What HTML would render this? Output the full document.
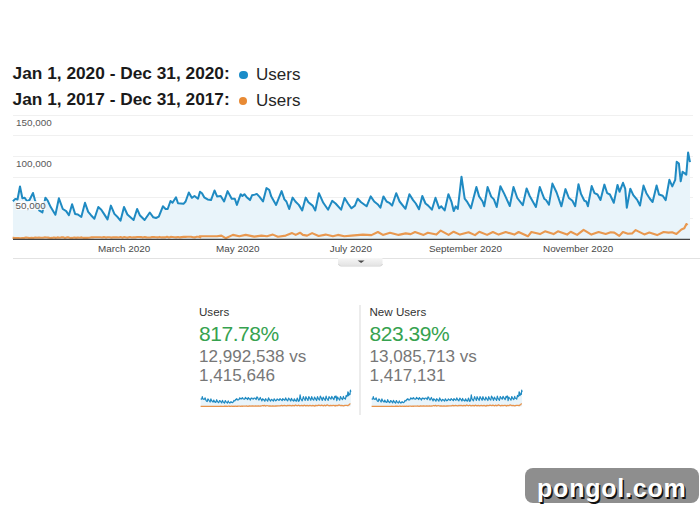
<!DOCTYPE html>
<html><head><meta charset="utf-8">
<style>
html,body{margin:0;padding:0;background:#fff;width:700px;height:509px;overflow:hidden;}
body{position:relative;font-family:"Liberation Sans",sans-serif;}
.t{position:absolute;white-space:nowrap;line-height:1;}
.hd{font-size:17.3px;font-weight:bold;color:#1a1a1a;}
.us{font-size:17px;color:#262626;}
.dot{position:absolute;width:8.6px;height:8.6px;border-radius:50%;}
.yl{font-size:9.9px;color:#585858;}
.xl{font-size:9.9px;color:#484848;}
.lab{font-size:11.6px;color:#333;}
.pct{font-size:21px;letter-spacing:-0.45px;color:#36a24f;}
.num{font-size:17.1px;color:#777;}
</style></head><body>
<div class="t hd" style="left:12.6px;top:65px;">Jan 1, 2020 - Dec 31, 2020:</div>
<div class="dot" style="left:239px;top:70.8px;background:#1a8cc8;"></div>
<div class="t us" style="left:256px;top:66px;">Users</div>
<div class="t hd" style="left:12.6px;top:91px;">Jan 1, 2017 - Dec 31, 2017:</div>
<div class="dot" style="left:238.6px;top:96.8px;background:#e88a34;"></div>
<div class="t us" style="left:256px;top:92px;">Users</div>

<svg width="700" height="509" style="position:absolute;left:0;top:0">
<line x1="13" y1="115.5" x2="693" y2="115.5" stroke="#f0f0f0" stroke-width="1"/>
<line x1="13" y1="135.5" x2="693" y2="135.5" stroke="#f0f0f0" stroke-width="1"/>
<line x1="13" y1="156.5" x2="693" y2="156.5" stroke="#f0f0f0" stroke-width="1"/>
<line x1="13" y1="177.5" x2="693" y2="177.5" stroke="#f0f0f0" stroke-width="1"/>
<line x1="13" y1="197.5" x2="693" y2="197.5" stroke="#f0f0f0" stroke-width="1"/>
<line x1="13" y1="218.5" x2="693" y2="218.5" stroke="#f0f0f0" stroke-width="1"/>

<polygon points="13.0,239.0 12.9,201.2 15.3,198.9 17.5,199.5 20.0,186.5 22.4,198.3 24.7,197.7 27.1,201.2 29.5,200.0 33.0,193.0 34.8,199.5 37.0,206.0 39.5,210.7 42.4,212.4 45.4,197.7 47.7,200.6 50.7,207.1 55.4,214.8 58.9,198.3 62.8,209.0 66.2,211.1 68.9,215.2 72.1,204.2 75.1,213.9 77.9,214.5 81.3,217.0 85.0,202.8 88.2,211.8 91.0,215.2 94.4,218.7 98.3,207.0 101.3,209.7 104.0,213.9 107.5,219.4 110.9,205.6 114.4,213.9 117.8,217.3 120.5,220.7 124.0,207.0 127.4,214.5 130.2,217.0 133.6,220.0 137.1,209.0 139.8,215.2 144.6,220.0 149.8,212.5 153.3,217.3 156.0,218.0 158.8,216.6 162.9,206.3 165.6,209.0 167.7,209.0 170.5,201.0 172.5,202.8 176.0,197.3 178.0,203.3 183.5,203.8 185.6,201.5 188.8,192.5 191.8,197.8 194.5,196.0 198.0,198.7 200.0,191.8 202.0,193.2 204.2,197.3 207.6,199.4 211.0,200.1 214.5,190.5 217.2,196.6 220.7,196.0 224.1,201.5 227.6,191.1 231.7,198.7 234.8,198.7 236.9,204.9 240.7,194.2 242.4,196.0 244.4,194.2 246.5,196.9 250.0,200.1 252.0,195.3 254.8,194.6 256.8,193.9 259.6,196.9 263.0,201.5 266.5,188.1 269.2,189.8 271.3,196.6 276.1,204.9 281.6,191.1 284.4,199.4 286.4,201.5 289.2,209.0 292.6,197.6 295.4,201.5 298.8,204.9 302.2,210.4 305.7,197.6 308.4,202.2 312.6,205.6 315.3,210.4 318.9,193.2 323.3,202.8 328.1,209.7 332.2,200.8 335.6,203.5 341.1,209.7 344.6,198.0 348.0,203.5 351.5,208.3 354.9,205.6 357.7,198.7 361.1,202.2 366.6,206.3 370.7,196.4 374.2,201.5 377.6,204.2 380.4,207.7 383.4,196.4 386.6,201.5 389.3,202.8 392.1,205.6 396.2,193.2 399.6,201.5 405.5,208.8 409.4,194.2 413.1,200.1 415.8,203.5 419.0,209.3 422.3,196.0 425.5,203.5 428.2,205.6 431.9,209.7 435.5,197.8 439.2,208.3 441.3,206.3 444.7,210.4 448.4,194.2 451.6,202.2 453.7,211.1 455.7,206.3 457.8,209.0 461.5,176.7 464.7,198.7 467.4,202.2 470.9,208.3 476.4,187.0 479.1,196.4 482.6,201.5 484.2,206.3 487.6,187.0 491.2,196.6 493.9,199.4 496.7,207.0 500.4,186.3 504.3,193.9 509.8,206.0 513.5,187.0 517.3,198.0 522.8,205.2 526.6,188.4 529.7,196.0 535.9,207.0 539.8,187.0 544.2,198.7 546.0,200.0 549.0,204.6 552.4,183.6 556.6,192.5 561.4,206.3 565.5,189.1 568.9,198.0 572.4,200.8 575.2,206.2 578.5,184.2 581.0,193.9 584.4,200.7 586.2,201.4 587.9,206.2 591.7,186.0 594.5,193.2 597.5,194.5 600.5,200.0 604.4,184.6 607.2,193.2 609.9,194.5 613.8,202.8 617.5,184.9 619.5,191.8 623.0,182.8 625.2,188.6 626.8,207.7 630.3,188.7 633.3,195.2 637.2,199.9 640.0,205.5 643.5,185.6 646.4,193.2 649.7,198.5 652.6,202.0 656.6,185.5 659.0,194.5 662.7,195.7 665.7,200.1 669.4,179.8 672.3,186.4 675.2,179.8 676.7,161.8 678.9,163.6 680.7,181.3 682.6,171.7 686.3,174.6 688.1,152.5 690.0,162.1 690.0,239.0" fill="#e9f4fa"/>
<polyline points="12.6,237.9 14.9,238.0 16.7,238.1 18.6,238.1 20.4,238.2 22.3,238.0 24.1,238.1 26.0,237.5 27.8,237.8 29.7,238.1 31.6,237.9 33.4,238.1 35.3,237.5 37.1,237.8 39.0,237.6 40.8,237.8 42.7,237.8 44.5,237.4 46.4,237.5 48.2,237.6 50.1,238.0 52.0,237.9 53.8,237.5 55.7,237.9 57.5,237.4 59.4,237.8 61.2,237.4 63.1,237.3 64.9,237.9 66.8,237.4 68.6,237.4 70.5,238.0 72.4,237.9 74.2,237.5 76.1,237.9 77.9,237.6 79.8,237.7 81.6,237.4 83.5,237.9 85.3,237.7 87.2,237.9 89.1,237.8 90.9,237.4 92.8,237.4 94.6,237.3 96.5,237.3 98.3,237.2 100.2,237.3 102.0,237.5 103.9,237.1 105.8,237.6 107.6,237.3 109.5,237.3 111.3,237.6 113.2,237.4 115.0,237.3 116.9,237.4 118.7,237.5 120.6,237.1 122.4,237.7 124.3,237.0 126.2,237.5 128.0,237.6 129.9,237.0 131.7,237.5 133.6,237.2 135.4,237.4 137.3,237.0 139.1,237.0 141.0,237.1 142.8,237.6 144.7,237.1 146.6,237.4 148.4,237.5 150.3,237.5 152.1,237.1 154.0,237.1 155.8,237.2 157.7,237.4 159.5,236.9 161.4,237.4 163.3,237.4 165.1,237.4 167.0,236.8 168.8,237.5 170.7,236.9 172.5,237.0 174.4,237.2 176.2,237.4 178.1,237.0 179.9,237.4 181.8,237.1 183.7,236.9 185.5,236.9 187.4,236.8 189.2,236.8 191.1,236.8 192.9,237.2 194.8,237.4 196.6,236.8 198.5,236.7 200.4,237.3 200.0,236.3 217.0,236.3 221.4,235.6 225.7,238.2 232.9,234.9 239.3,236.3 245.7,234.9 254.3,236.6 261.4,235.6 267.0,236.3 272.9,234.6 277.9,236.7 285.7,235.6 292.1,233.1 295.7,234.9 300.0,232.7 302.9,234.9 307.1,235.6 312.1,233.1 318.6,236.0 325.7,234.6 332.9,236.3 337.9,234.9 344.3,236.3 351.4,235.6 362.9,234.6 371.4,235.1 377.9,232.0 382.9,234.9 390.0,232.7 398.6,234.9 405.7,233.4 410.7,234.1 415.0,232.0 423.6,234.9 427.9,232.7 436.4,234.6 440.7,230.6 448.6,234.9 453.6,231.7 460.0,234.6 468.6,232.3 475.0,235.1 479.3,231.7 487.1,234.9 492.9,232.0 498.6,234.6 505.7,232.0 514.3,234.6 518.6,232.0 527.9,236.3 531.4,232.0 540.0,234.1 545.0,231.3 553.6,234.1 557.9,231.3 567.1,234.6 570.7,231.7 577.1,234.9 583.6,229.9 591.4,234.6 598.6,232.0 605.7,234.0 610.7,232.3 614.3,232.6 619.3,235.9 622.9,232.0 627.9,233.7 632.1,233.4 635.7,230.1 644.3,234.4 649.3,232.6 657.1,235.1 663.6,232.0 668.6,232.6 672.1,232.3 676.4,234.0 681.4,229.4 684.3,228.3 686.4,224.0 687.6,225.1" fill="none" stroke="#e9984f" stroke-width="2.1" stroke-linejoin="round"/>
<line x1="13" y1="239.3" x2="690" y2="239.3" stroke="#444" stroke-width="1.2"/>
<polyline points="12.9,201.2 15.3,198.9 17.5,199.5 20.0,186.5 22.4,198.3 24.7,197.7 27.1,201.2 29.5,200.0 33.0,193.0 34.8,199.5 37.0,206.0 39.5,210.7 42.4,212.4 45.4,197.7 47.7,200.6 50.7,207.1 55.4,214.8 58.9,198.3 62.8,209.0 66.2,211.1 68.9,215.2 72.1,204.2 75.1,213.9 77.9,214.5 81.3,217.0 85.0,202.8 88.2,211.8 91.0,215.2 94.4,218.7 98.3,207.0 101.3,209.7 104.0,213.9 107.5,219.4 110.9,205.6 114.4,213.9 117.8,217.3 120.5,220.7 124.0,207.0 127.4,214.5 130.2,217.0 133.6,220.0 137.1,209.0 139.8,215.2 144.6,220.0 149.8,212.5 153.3,217.3 156.0,218.0 158.8,216.6 162.9,206.3 165.6,209.0 167.7,209.0 170.5,201.0 172.5,202.8 176.0,197.3 178.0,203.3 183.5,203.8 185.6,201.5 188.8,192.5 191.8,197.8 194.5,196.0 198.0,198.7 200.0,191.8 202.0,193.2 204.2,197.3 207.6,199.4 211.0,200.1 214.5,190.5 217.2,196.6 220.7,196.0 224.1,201.5 227.6,191.1 231.7,198.7 234.8,198.7 236.9,204.9 240.7,194.2 242.4,196.0 244.4,194.2 246.5,196.9 250.0,200.1 252.0,195.3 254.8,194.6 256.8,193.9 259.6,196.9 263.0,201.5 266.5,188.1 269.2,189.8 271.3,196.6 276.1,204.9 281.6,191.1 284.4,199.4 286.4,201.5 289.2,209.0 292.6,197.6 295.4,201.5 298.8,204.9 302.2,210.4 305.7,197.6 308.4,202.2 312.6,205.6 315.3,210.4 318.9,193.2 323.3,202.8 328.1,209.7 332.2,200.8 335.6,203.5 341.1,209.7 344.6,198.0 348.0,203.5 351.5,208.3 354.9,205.6 357.7,198.7 361.1,202.2 366.6,206.3 370.7,196.4 374.2,201.5 377.6,204.2 380.4,207.7 383.4,196.4 386.6,201.5 389.3,202.8 392.1,205.6 396.2,193.2 399.6,201.5 405.5,208.8 409.4,194.2 413.1,200.1 415.8,203.5 419.0,209.3 422.3,196.0 425.5,203.5 428.2,205.6 431.9,209.7 435.5,197.8 439.2,208.3 441.3,206.3 444.7,210.4 448.4,194.2 451.6,202.2 453.7,211.1 455.7,206.3 457.8,209.0 461.5,176.7 464.7,198.7 467.4,202.2 470.9,208.3 476.4,187.0 479.1,196.4 482.6,201.5 484.2,206.3 487.6,187.0 491.2,196.6 493.9,199.4 496.7,207.0 500.4,186.3 504.3,193.9 509.8,206.0 513.5,187.0 517.3,198.0 522.8,205.2 526.6,188.4 529.7,196.0 535.9,207.0 539.8,187.0 544.2,198.7 546.0,200.0 549.0,204.6 552.4,183.6 556.6,192.5 561.4,206.3 565.5,189.1 568.9,198.0 572.4,200.8 575.2,206.2 578.5,184.2 581.0,193.9 584.4,200.7 586.2,201.4 587.9,206.2 591.7,186.0 594.5,193.2 597.5,194.5 600.5,200.0 604.4,184.6 607.2,193.2 609.9,194.5 613.8,202.8 617.5,184.9 619.5,191.8 623.0,182.8 625.2,188.6 626.8,207.7 630.3,188.7 633.3,195.2 637.2,199.9 640.0,205.5 643.5,185.6 646.4,193.2 649.7,198.5 652.6,202.0 656.6,185.5 659.0,194.5 662.7,195.7 665.7,200.1 669.4,179.8 672.3,186.4 675.2,179.8 676.7,161.8 678.9,163.6 680.7,181.3 682.6,171.7 686.3,174.6 688.1,152.5 690.0,162.1" fill="none" stroke="#1f8ac2" stroke-width="2" stroke-linejoin="round"/>
<line x1="13" y1="258.5" x2="700" y2="258.5" stroke="#e2e2e2" stroke-width="1"/>
<defs><linearGradient id="bg" x1="0" y1="0" x2="0" y2="1"><stop offset="0" stop-color="#f6f6f6"/><stop offset="1" stop-color="#e4e4e4"/></linearGradient></defs>
<path d="M338,258 H382.5 V263.5 Q382.5,265.5 380.5,265.5 H340 Q338,265.5 338,263.5 Z" fill="url(#bg)"/>
<path d="M338.5,264 Q339,266 341,266 H380 Q382,266 382.5,264" fill="none" stroke="#d2d2d2" stroke-width="1"/>
<polygon points="357.6,260.6 364.6,260.6 361.1,262.9" fill="#4a4a4a"/>
<line x1="360" y1="305" x2="360" y2="415" stroke="#e0e0e0" stroke-width="1.2"/>
<polygon points="200.7,406.6 200.7,399.4 201.2,399.0 201.7,399.1 202.3,396.6 202.8,398.9 203.3,398.8 203.8,399.4 204.4,399.2 205.1,397.9 205.5,399.1 206.0,400.3 206.6,401.2 207.2,401.5 207.9,398.8 208.4,399.3 209.1,400.5 210.1,402.0 210.9,398.9 211.7,400.9 212.5,401.3 213.1,402.1 213.8,400.0 214.5,401.8 215.1,401.9 215.8,402.4 216.7,399.7 217.4,401.4 218.0,402.1 218.7,402.7 219.6,400.5 220.3,401.0 220.9,401.8 221.7,402.9 222.4,400.3 223.2,401.8 223.9,402.5 224.5,403.1 225.3,400.5 226.1,401.9 226.7,402.4 227.4,403.0 228.2,400.9 228.8,402.1 229.9,403.0 231.0,401.6 231.8,402.5 232.4,402.6 233.0,402.3 233.9,400.4 234.5,400.9 235.0,400.9 235.6,399.4 236.1,399.7 236.8,398.7 237.3,399.8 238.5,399.9 239.0,399.5 239.7,397.8 240.3,398.8 240.9,398.4 241.7,398.9 242.2,397.6 242.6,397.9 243.1,398.7 243.8,399.1 244.6,399.2 245.4,397.4 246.0,398.5 246.7,398.4 247.5,399.5 248.3,397.5 249.2,398.9 249.9,398.9 250.3,400.1 251.2,398.1 251.6,398.4 252.0,398.1 252.5,398.6 253.2,399.2 253.7,398.3 254.3,398.2 254.8,398.0 255.4,398.6 256.1,399.5 256.9,396.9 257.5,397.3 258.0,398.5 259.0,400.1 260.3,397.5 260.9,399.1 261.3,399.5 261.9,400.9 262.7,398.7 263.3,399.5 264.1,400.1 264.8,401.2 265.6,398.7 266.2,399.6 267.1,400.3 267.7,401.2 268.5,397.9 269.5,399.7 270.6,401.0 271.5,399.3 272.2,399.9 273.4,401.0 274.2,398.8 275.0,399.9 275.8,400.8 276.5,400.3 277.1,398.9 277.9,399.6 279.1,400.4 280.0,398.5 280.8,399.5 281.5,400.0 282.2,400.7 282.8,398.5 283.5,399.5 284.1,399.7 284.8,400.3 285.7,397.9 286.4,399.5 287.7,400.9 288.6,398.1 289.4,399.2 290.0,399.9 290.7,401.0 291.4,398.4 292.2,399.9 292.8,400.3 293.6,401.0 294.4,398.8 295.2,400.8 295.7,400.4 296.4,401.2 297.2,398.1 297.9,399.6 298.4,401.3 298.9,400.4 299.3,400.9 300.1,394.8 300.8,398.9 301.4,399.6 302.2,400.8 303.4,396.7 304.0,398.5 304.8,399.5 305.2,400.4 305.9,396.7 306.7,398.5 307.3,399.1 307.9,400.5 308.8,396.6 309.6,398.0 310.8,400.3 311.7,396.7 312.5,398.8 313.7,400.2 314.6,397.0 315.3,398.4 316.6,400.5 317.5,396.7 318.5,398.9 318.9,399.2 319.5,400.1 320.3,396.1 321.2,397.8 322.3,400.4 323.2,397.1 324.0,398.8 324.7,399.3 325.3,400.4 326.1,396.2 326.6,398.0 327.4,399.3 327.8,399.5 328.2,400.4 329.0,396.5 329.6,397.9 330.3,398.1 331.0,399.2 331.8,396.3 332.4,397.9 333.0,398.1 333.9,399.7 334.7,396.3 335.2,397.6 335.9,395.9 336.4,397.0 336.8,400.7 337.6,397.0 338.2,398.3 339.1,399.2 339.7,400.2 340.5,396.5 341.1,397.9 341.9,398.9 342.5,399.6 343.4,396.4 343.9,398.1 344.7,398.4 345.4,399.2 346.2,395.4 346.9,396.6 347.5,395.4 347.9,391.9 348.3,392.3 348.7,395.6 349.2,393.8 350.0,394.4 350.4,390.2 350.8,392.0 350.8,406.6" fill="#e9f4fa"/>
<polyline points="200.6,406.4 201.1,406.4 201.5,406.4 201.9,406.4 202.3,406.4 202.8,406.4 203.2,406.4 203.6,406.3 204.0,406.4 204.4,406.4 204.8,406.4 205.2,406.4 205.6,406.3 206.0,406.4 206.5,406.3 206.9,406.4 207.3,406.4 207.7,406.3 208.1,406.3 208.5,406.3 208.9,406.4 209.3,406.4 209.7,406.3 210.2,406.4 210.6,406.3 211.0,406.4 211.4,406.3 211.8,406.3 212.2,406.4 212.6,406.3 213.0,406.3 213.4,406.4 213.9,406.4 214.3,406.3 214.7,406.4 215.1,406.3 215.5,406.4 215.9,406.3 216.3,406.4 216.7,406.4 217.2,406.4 217.6,406.4 218.0,406.3 218.4,406.3 218.8,406.3 219.2,406.3 219.6,406.3 220.0,406.3 220.4,406.3 220.9,406.2 221.3,406.3 221.7,406.3 222.1,406.3 222.5,406.3 222.9,406.3 223.3,406.3 223.7,406.3 224.1,406.3 224.6,406.2 225.0,406.4 225.4,406.2 225.8,406.3 226.2,406.3 226.6,406.2 227.0,406.3 227.4,406.3 227.8,406.3 228.3,406.2 228.7,406.2 229.1,406.2 229.5,406.3 229.9,406.2 230.3,406.3 230.7,406.3 231.1,406.3 231.5,406.2 232.0,406.2 232.4,406.3 232.8,406.3 233.2,406.2 233.6,406.3 234.0,406.3 234.4,406.3 234.8,406.2 235.2,406.3 235.7,406.2 236.1,406.2 236.5,406.3 236.9,406.3 237.3,406.2 237.7,406.3 238.1,406.2 238.5,406.2 238.9,406.2 239.4,406.2 239.8,406.2 240.2,406.2 240.6,406.3 241.0,406.3 241.4,406.2 241.8,406.2 242.2,406.3 242.2,406.1 245.9,406.1 246.9,406.0 247.9,406.4 249.5,405.8 250.9,406.1 252.3,405.8 254.2,406.1 255.8,406.0 257.0,406.1 258.3,405.8 259.4,406.2 261.2,406.0 262.6,405.5 263.4,405.8 264.3,405.4 265.0,405.8 265.9,406.0 267.0,405.5 268.5,406.0 270.0,405.8 271.6,406.1 272.7,405.8 274.2,406.1 275.7,406.0 278.3,405.8 280.2,405.9 281.6,405.3 282.7,405.8 284.3,405.4 286.2,405.8 287.8,405.5 288.9,405.7 289.8,405.3 291.7,405.8 292.7,405.4 294.6,405.8 295.5,405.0 297.3,405.8 298.4,405.2 299.8,405.8 301.7,405.3 303.1,405.9 304.1,405.2 305.8,405.8 307.1,405.3 308.4,405.8 309.9,405.3 311.8,405.8 312.8,405.3 314.9,406.1 315.6,405.3 317.5,405.7 318.7,405.1 320.6,405.7 321.5,405.1 323.6,405.8 324.3,405.2 325.8,405.8 327.2,404.9 328.9,405.8 330.5,405.3 332.1,405.7 333.2,405.3 334.0,405.4 335.1,406.0 335.9,405.3 337.0,405.6 338.0,405.5 338.8,404.9 340.7,405.7 341.8,405.4 343.5,405.9 344.9,405.3 346.1,405.4 346.8,405.3 347.8,405.7 348.9,404.8 349.5,404.6 350.0,403.8 350.3,404.0" fill="none" stroke="#e8924a" stroke-width="1.3" stroke-linejoin="round"/>
<polyline points="200.7,399.4 201.2,399.0 201.7,399.1 202.3,396.6 202.8,398.9 203.3,398.8 203.8,399.4 204.4,399.2 205.1,397.9 205.5,399.1 206.0,400.3 206.6,401.2 207.2,401.5 207.9,398.8 208.4,399.3 209.1,400.5 210.1,402.0 210.9,398.9 211.7,400.9 212.5,401.3 213.1,402.1 213.8,400.0 214.5,401.8 215.1,401.9 215.8,402.4 216.7,399.7 217.4,401.4 218.0,402.1 218.7,402.7 219.6,400.5 220.3,401.0 220.9,401.8 221.7,402.9 222.4,400.3 223.2,401.8 223.9,402.5 224.5,403.1 225.3,400.5 226.1,401.9 226.7,402.4 227.4,403.0 228.2,400.9 228.8,402.1 229.9,403.0 231.0,401.6 231.8,402.5 232.4,402.6 233.0,402.3 233.9,400.4 234.5,400.9 235.0,400.9 235.6,399.4 236.1,399.7 236.8,398.7 237.3,399.8 238.5,399.9 239.0,399.5 239.7,397.8 240.3,398.8 240.9,398.4 241.7,398.9 242.2,397.6 242.6,397.9 243.1,398.7 243.8,399.1 244.6,399.2 245.4,397.4 246.0,398.5 246.7,398.4 247.5,399.5 248.3,397.5 249.2,398.9 249.9,398.9 250.3,400.1 251.2,398.1 251.6,398.4 252.0,398.1 252.5,398.6 253.2,399.2 253.7,398.3 254.3,398.2 254.8,398.0 255.4,398.6 256.1,399.5 256.9,396.9 257.5,397.3 258.0,398.5 259.0,400.1 260.3,397.5 260.9,399.1 261.3,399.5 261.9,400.9 262.7,398.7 263.3,399.5 264.1,400.1 264.8,401.2 265.6,398.7 266.2,399.6 267.1,400.3 267.7,401.2 268.5,397.9 269.5,399.7 270.6,401.0 271.5,399.3 272.2,399.9 273.4,401.0 274.2,398.8 275.0,399.9 275.8,400.8 276.5,400.3 277.1,398.9 277.9,399.6 279.1,400.4 280.0,398.5 280.8,399.5 281.5,400.0 282.2,400.7 282.8,398.5 283.5,399.5 284.1,399.7 284.8,400.3 285.7,397.9 286.4,399.5 287.7,400.9 288.6,398.1 289.4,399.2 290.0,399.9 290.7,401.0 291.4,398.4 292.2,399.9 292.8,400.3 293.6,401.0 294.4,398.8 295.2,400.8 295.7,400.4 296.4,401.2 297.2,398.1 297.9,399.6 298.4,401.3 298.9,400.4 299.3,400.9 300.1,394.8 300.8,398.9 301.4,399.6 302.2,400.8 303.4,396.7 304.0,398.5 304.8,399.5 305.2,400.4 305.9,396.7 306.7,398.5 307.3,399.1 307.9,400.5 308.8,396.6 309.6,398.0 310.8,400.3 311.7,396.7 312.5,398.8 313.7,400.2 314.6,397.0 315.3,398.4 316.6,400.5 317.5,396.7 318.5,398.9 318.9,399.2 319.5,400.1 320.3,396.1 321.2,397.8 322.3,400.4 323.2,397.1 324.0,398.8 324.7,399.3 325.3,400.4 326.1,396.2 326.6,398.0 327.4,399.3 327.8,399.5 328.2,400.4 329.0,396.5 329.6,397.9 330.3,398.1 331.0,399.2 331.8,396.3 332.4,397.9 333.0,398.1 333.9,399.7 334.7,396.3 335.2,397.6 335.9,395.9 336.4,397.0 336.8,400.7 337.6,397.0 338.2,398.3 339.1,399.2 339.7,400.2 340.5,396.5 341.1,397.9 341.9,398.9 342.5,399.6 343.4,396.4 343.9,398.1 344.7,398.4 345.4,399.2 346.2,395.4 346.9,396.6 347.5,395.4 347.9,391.9 348.3,392.3 348.7,395.6 349.2,393.8 350.0,394.4 350.4,390.2 350.8,392.0" fill="none" stroke="#1f8ac2" stroke-width="1.2" stroke-linejoin="round"/>
<polygon points="371.7,406.6 371.7,399.4 372.2,399.0 372.7,399.1 373.3,396.6 373.8,398.9 374.3,398.8 374.8,399.4 375.4,399.2 376.1,397.9 376.5,399.1 377.0,400.3 377.6,401.2 378.2,401.5 378.9,398.8 379.4,399.3 380.1,400.5 381.1,402.0 381.9,398.9 382.8,400.9 383.5,401.3 384.1,402.1 384.8,400.0 385.5,401.8 386.1,401.9 386.9,402.4 387.7,399.7 388.4,401.4 389.0,402.1 389.8,402.7 390.6,400.5 391.3,401.0 391.9,401.8 392.7,402.9 393.4,400.3 394.2,401.8 395.0,402.5 395.6,403.1 396.4,400.5 397.1,401.9 397.7,402.4 398.5,403.0 399.3,400.9 399.9,402.1 400.9,403.0 402.1,401.6 402.9,402.5 403.5,402.6 404.1,402.3 405.0,400.4 405.6,400.9 406.1,400.9 406.7,399.4 407.1,399.7 407.9,398.7 408.4,399.8 409.6,399.9 410.0,399.5 410.8,397.8 411.4,398.8 412.0,398.4 412.8,398.9 413.2,397.6 413.7,397.9 414.2,398.7 414.9,399.1 415.7,399.2 416.5,397.4 417.1,398.5 417.8,398.4 418.6,399.5 419.4,397.5 420.3,398.9 421.0,398.9 421.4,400.1 422.3,398.1 422.7,398.4 423.1,398.1 423.6,398.6 424.4,399.2 424.8,398.3 425.4,398.2 425.9,398.0 426.5,398.6 427.2,399.5 428.0,396.9 428.6,397.3 429.1,398.5 430.1,400.1 431.4,397.5 432.0,399.1 432.4,399.5 433.1,400.9 433.8,398.7 434.4,399.5 435.2,400.1 435.9,401.2 436.7,398.7 437.3,399.6 438.3,400.3 438.9,401.2 439.7,397.9 440.6,399.7 441.7,401.0 442.6,399.3 443.4,399.9 444.6,401.0 445.4,398.8 446.1,399.9 446.9,400.8 447.7,400.3 448.3,398.9 449.0,399.6 450.3,400.4 451.2,398.5 451.9,399.5 452.7,400.0 453.3,400.7 454.0,398.5 454.7,399.5 455.3,399.7 455.9,400.3 456.8,397.9 457.6,399.5 458.9,400.9 459.8,398.1 460.6,399.2 461.2,399.9 461.9,401.0 462.6,398.4 463.3,399.9 463.9,400.3 464.8,401.0 465.6,398.8 466.4,400.8 466.8,400.4 467.6,401.2 468.4,398.1 469.1,399.6 469.6,401.3 470.0,400.4 470.5,400.9 471.3,394.8 472.0,398.9 472.6,399.6 473.4,400.8 474.6,396.7 475.2,398.5 476.0,399.5 476.4,400.4 477.1,396.7 477.9,398.5 478.5,399.1 479.2,400.5 480.0,396.6 480.8,398.0 482.1,400.3 482.9,396.7 483.7,398.8 485.0,400.2 485.8,397.0 486.5,398.4 487.9,400.5 488.7,396.7 489.7,398.9 490.1,399.2 490.8,400.1 491.5,396.1 492.5,397.8 493.5,400.4 494.4,397.1 495.2,398.8 496.0,399.3 496.6,400.4 497.3,396.2 497.9,398.0 498.6,399.3 499.0,399.5 499.4,400.4 500.3,396.5 500.9,397.9 501.6,398.1 502.2,399.2 503.1,396.3 503.7,397.9 504.3,398.1 505.2,399.7 506.0,396.3 506.4,397.6 507.2,395.9 507.7,397.0 508.1,400.7 508.8,397.0 509.5,398.3 510.4,399.2 511.0,400.2 511.8,396.5 512.4,397.9 513.1,398.9 513.8,399.6 514.7,396.4 515.2,398.1 516.0,398.4 516.7,399.2 517.5,395.4 518.2,396.6 518.8,395.4 519.1,391.9 519.6,392.3 520.0,395.6 520.5,393.8 521.3,394.4 521.7,390.2 522.1,392.0 522.1,406.6" fill="#e9f4fa"/>
<polyline points="371.6,406.4 372.1,406.4 372.5,406.4 372.9,406.4 373.3,406.4 373.8,406.4 374.2,406.4 374.6,406.3 375.0,406.4 375.4,406.4 375.8,406.4 376.2,406.4 376.6,406.3 377.1,406.4 377.5,406.3 377.9,406.4 378.3,406.4 378.7,406.3 379.1,406.3 379.5,406.3 379.9,406.4 380.4,406.4 380.8,406.3 381.2,406.4 381.6,406.3 382.0,406.4 382.4,406.3 382.8,406.3 383.2,406.4 383.7,406.3 384.1,406.3 384.5,406.4 384.9,406.4 385.3,406.3 385.7,406.4 386.1,406.3 386.5,406.4 386.9,406.3 387.4,406.4 387.8,406.4 388.2,406.4 388.6,406.4 389.0,406.3 389.4,406.3 389.8,406.3 390.2,406.3 390.7,406.3 391.1,406.3 391.5,406.3 391.9,406.2 392.3,406.3 392.7,406.3 393.1,406.3 393.5,406.3 394.0,406.3 394.4,406.3 394.8,406.3 395.2,406.3 395.6,406.2 396.0,406.4 396.4,406.2 396.8,406.3 397.3,406.3 397.7,406.2 398.1,406.3 398.5,406.3 398.9,406.3 399.3,406.2 399.7,406.2 400.1,406.2 400.5,406.3 401.0,406.2 401.4,406.3 401.8,406.3 402.2,406.3 402.6,406.2 403.0,406.2 403.4,406.3 403.8,406.3 404.3,406.2 404.7,406.3 405.1,406.3 405.5,406.3 405.9,406.2 406.3,406.3 406.7,406.2 407.1,406.2 407.6,406.3 408.0,406.3 408.4,406.2 408.8,406.3 409.2,406.2 409.6,406.2 410.0,406.2 410.4,406.2 410.8,406.2 411.3,406.2 411.7,406.3 412.1,406.3 412.5,406.2 412.9,406.2 413.3,406.3 413.2,406.1 417.0,406.1 418.0,406.0 419.0,406.4 420.6,405.8 422.0,406.1 423.4,405.8 425.3,406.1 426.9,406.0 428.1,406.1 429.4,405.8 430.5,406.2 432.3,406.0 433.7,405.5 434.5,405.8 435.5,405.4 436.1,405.8 437.0,406.0 438.1,405.5 439.6,406.0 441.2,405.8 442.8,406.1 443.9,405.8 445.3,406.1 446.9,406.0 449.4,405.8 451.3,405.9 452.8,405.3 453.9,405.8 455.5,405.4 457.4,405.8 458.9,405.5 460.1,405.7 461.0,405.3 462.9,405.8 463.9,405.4 465.8,405.8 466.7,405.0 468.5,405.8 469.6,405.2 471.0,405.8 472.9,405.3 474.3,405.9 475.3,405.2 477.0,405.8 478.3,405.3 479.6,405.8 481.2,405.3 483.1,405.8 484.0,405.3 486.1,406.1 486.9,405.3 488.8,405.7 489.9,405.1 491.8,405.7 492.8,405.1 494.8,405.8 495.6,405.2 497.0,405.8 498.5,404.9 500.2,405.8 501.8,405.3 503.4,405.7 504.5,405.3 505.3,405.4 506.4,406.0 507.2,405.3 508.3,405.6 509.2,405.5 510.0,404.9 511.9,405.7 513.1,405.4 514.8,405.9 516.2,405.3 517.3,405.4 518.1,405.3 519.1,405.7 520.2,404.8 520.8,404.6 521.3,403.8 521.6,404.0" fill="none" stroke="#e8924a" stroke-width="1.3" stroke-linejoin="round"/>
<polyline points="371.7,399.4 372.2,399.0 372.7,399.1 373.3,396.6 373.8,398.9 374.3,398.8 374.8,399.4 375.4,399.2 376.1,397.9 376.5,399.1 377.0,400.3 377.6,401.2 378.2,401.5 378.9,398.8 379.4,399.3 380.1,400.5 381.1,402.0 381.9,398.9 382.8,400.9 383.5,401.3 384.1,402.1 384.8,400.0 385.5,401.8 386.1,401.9 386.9,402.4 387.7,399.7 388.4,401.4 389.0,402.1 389.8,402.7 390.6,400.5 391.3,401.0 391.9,401.8 392.7,402.9 393.4,400.3 394.2,401.8 395.0,402.5 395.6,403.1 396.4,400.5 397.1,401.9 397.7,402.4 398.5,403.0 399.3,400.9 399.9,402.1 400.9,403.0 402.1,401.6 402.9,402.5 403.5,402.6 404.1,402.3 405.0,400.4 405.6,400.9 406.1,400.9 406.7,399.4 407.1,399.7 407.9,398.7 408.4,399.8 409.6,399.9 410.0,399.5 410.8,397.8 411.4,398.8 412.0,398.4 412.8,398.9 413.2,397.6 413.7,397.9 414.2,398.7 414.9,399.1 415.7,399.2 416.5,397.4 417.1,398.5 417.8,398.4 418.6,399.5 419.4,397.5 420.3,398.9 421.0,398.9 421.4,400.1 422.3,398.1 422.7,398.4 423.1,398.1 423.6,398.6 424.4,399.2 424.8,398.3 425.4,398.2 425.9,398.0 426.5,398.6 427.2,399.5 428.0,396.9 428.6,397.3 429.1,398.5 430.1,400.1 431.4,397.5 432.0,399.1 432.4,399.5 433.1,400.9 433.8,398.7 434.4,399.5 435.2,400.1 435.9,401.2 436.7,398.7 437.3,399.6 438.3,400.3 438.9,401.2 439.7,397.9 440.6,399.7 441.7,401.0 442.6,399.3 443.4,399.9 444.6,401.0 445.4,398.8 446.1,399.9 446.9,400.8 447.7,400.3 448.3,398.9 449.0,399.6 450.3,400.4 451.2,398.5 451.9,399.5 452.7,400.0 453.3,400.7 454.0,398.5 454.7,399.5 455.3,399.7 455.9,400.3 456.8,397.9 457.6,399.5 458.9,400.9 459.8,398.1 460.6,399.2 461.2,399.9 461.9,401.0 462.6,398.4 463.3,399.9 463.9,400.3 464.8,401.0 465.6,398.8 466.4,400.8 466.8,400.4 467.6,401.2 468.4,398.1 469.1,399.6 469.6,401.3 470.0,400.4 470.5,400.9 471.3,394.8 472.0,398.9 472.6,399.6 473.4,400.8 474.6,396.7 475.2,398.5 476.0,399.5 476.4,400.4 477.1,396.7 477.9,398.5 478.5,399.1 479.2,400.5 480.0,396.6 480.8,398.0 482.1,400.3 482.9,396.7 483.7,398.8 485.0,400.2 485.8,397.0 486.5,398.4 487.9,400.5 488.7,396.7 489.7,398.9 490.1,399.2 490.8,400.1 491.5,396.1 492.5,397.8 493.5,400.4 494.4,397.1 495.2,398.8 496.0,399.3 496.6,400.4 497.3,396.2 497.9,398.0 498.6,399.3 499.0,399.5 499.4,400.4 500.3,396.5 500.9,397.9 501.6,398.1 502.2,399.2 503.1,396.3 503.7,397.9 504.3,398.1 505.2,399.7 506.0,396.3 506.4,397.6 507.2,395.9 507.7,397.0 508.1,400.7 508.8,397.0 509.5,398.3 510.4,399.2 511.0,400.2 511.8,396.5 512.4,397.9 513.1,398.9 513.8,399.6 514.7,396.4 515.2,398.1 516.0,398.4 516.7,399.2 517.5,395.4 518.2,396.6 518.8,395.4 519.1,391.9 519.6,392.3 520.0,395.6 520.5,393.8 521.3,394.4 521.7,390.2 522.1,392.0" fill="none" stroke="#1f8ac2" stroke-width="1.2" stroke-linejoin="round"/>
</svg>

<div class="t yl" style="left:16px;top:118px;">150,000</div>
<div class="t yl" style="left:16px;top:159px;">100,000</div>
<div class="t yl" style="left:15.5px;top:200.5px;background:rgba(255,255,255,0.8);">50,000</div>

<div class="t xl" style="left:98px;top:244.3px;">March 2020</div>
<div class="t xl" style="left:216px;top:244.3px;">May 2020</div>
<div class="t xl" style="left:329.7px;top:244.3px;">July 2020</div>
<div class="t xl" style="left:429px;top:244.3px;">September 2020</div>
<div class="t xl" style="left:543px;top:244.3px;">November 2020</div>

<div class="t lab" style="left:199px;top:305.5px;">Users</div>
<div class="t pct" style="left:199px;top:323px;">817.78%</div>
<div class="t num" style="left:199px;top:348.2px;">12,992,538 vs</div>
<div class="t num" style="left:199px;top:367.3px;">1,415,646</div>

<div class="t lab" style="left:369.5px;top:305.5px;">New Users</div>
<div class="t pct" style="left:369.5px;top:323px;">823.39%</div>
<div class="t num" style="left:369.5px;top:348.2px;">13,085,713 vs</div>
<div class="t num" style="left:369.5px;top:367.3px;">1,417,131</div>

<div style="position:absolute;left:525px;top:468px;width:174px;height:35px;border-radius:8px;background:#8e8e8e;"></div>
<div class="t" style="left:537px;top:475.5px;font-size:25px;letter-spacing:0.8px;font-weight:bold;color:#fff;text-shadow:1.5px 1.5px 0 #111;">pongol.com</div>
</body></html>
